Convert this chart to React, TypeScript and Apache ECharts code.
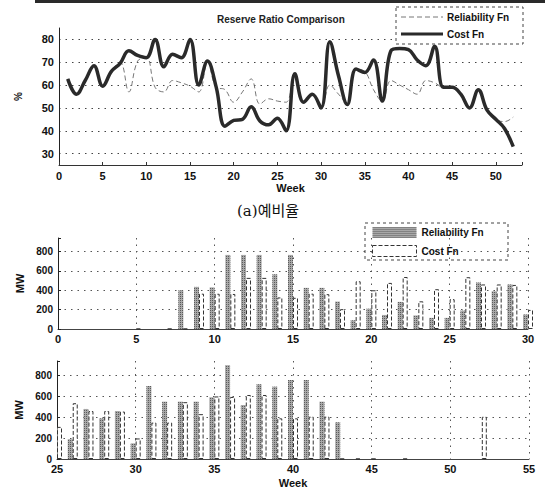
import React, { useEffect, useRef } from 'react';
import * as echarts from 'echarts';

// ---- data ----
const weeks = Array.from({ length: 52 }, (_, i) => i + 1);

const costRatio = [
  62.7, 56, 62, 68.5, 59.5, 66, 69.5, 75, 73, 72,
  80, 68, 73.5, 72, 80, 60, 70.5, 59, 42, 44.5,
  45, 50.5, 44.3, 42.6, 45.5, 40, 65, 52.5, 56, 50,
  79, 64, 51.5, 67, 65.5, 71, 53, 75, 76, 75.5,
  71, 68.5, 77, 59, 59, 56, 50, 58, 49, 45,
  41, 33,
];

const reliabilityRatio = [
  62.7, 56, 62, 68.5, 59.5, 66, 70, 57, 70.5, 72,
  59, 57, 62, 61, 59.5, 57, 70, 59, 58, 52.5,
  57, 62.7, 51.7, 54, 53, 52.5, 65, 52.5, 56, 50,
  60, 56, 52, 67, 66, 58, 53, 62, 60, 58,
  56, 62, 61, 59, 59, 56, 50, 58, 49, 45,
  44, 46,
];

const reliabilityMW: (number | null)[] = [
  null, null, null, null, 0, null, 0, 400, 435, 430,
  765, 765, 765, 565, 765, 425, 425, 283, 90, 210,
  145, 280, 140, 115, 115, 190, 480, 390, 460, 150,
  700, 550, 550, 550, 592, 900, 518, 717, 694, 758,
  758, 550, 352, 0, 0, null, 0, null, null, null,
  null, null,
];

const costMW: (number | null)[] = [
  null, null, null, null, 0, null, 0, 0, 365, 364,
  362, 528, 528, 326, 322, 365, 360, 205, 493, 400,
  476, 537, 286, 411, 308, 535, 460, 460, 455, 197,
  349, 349, 545, 430, 600, 595, 614, 614, 390, 390,
  406, 406, 0, 0, 0, null, 0, null, null, null,
  null, 405,
];

const seriesNames = ['Reliability Fn', 'Cost Fn'];
const titleText = 'Reserve Ratio Comparison';
const captionText = '(a)예비율';

const FONT = '"Liberation Sans", Arial, sans-serif';

const toPairs = (vals: (number | null)[]) => weeks.map((w, i) => [w, vals[i]]);
// keep only the weeks whose bar half falls inside the axis range
const inRange = (vals: (number | null)[], min: number, max: number, leftHalf: boolean) =>
  weeks
    .map((w, i) => [w, vals[i]] as [number, number | null])
    .filter(([w]) => (leftHalf ? w > min && w <= max : w >= min && w <= max));

const dotted = { color: '#555', type: [1.5, 5] as any, width: 1 };

export default function App() {
  const ref = useRef<HTMLDivElement>(null);

  useEffect(() => {
    if (!ref.current) return;
    const chart = echarts.init(ref.current, null, { renderer: 'svg' });

    const labelStyle = { fontSize: 10, fontWeight: 'bold' as const, color: '#111', fontFamily: FONT };
    const nameStyle = { fontSize: 11, fontWeight: 'bold' as const, color: '#111', fontFamily: FONT };

    const hatch = {
      symbol: 'rect',
      symbolSize: 1,
      color: 'rgba(40,40,40,0.6)',
      dashArrayX: [1, 1],
      dashArrayY: [1, 1],
      rotation: 0,
    };

    const barSeries = (axis: number, min: number, max: number) => [
      {
        type: 'bar',
        name: seriesNames[0],
        xAxisIndex: axis,
        yAxisIndex: axis,
        data: inRange(reliabilityMW, min, max, true),
        barWidth: 5,
        barGap: '0%',
        clip: true,
        itemStyle: { color: '#a8a8a8', decal: hatch },
      },
      {
        type: 'bar',
        name: seriesNames[1],
        xAxisIndex: axis,
        yAxisIndex: axis,
        data: inRange(costMW, min, max, false),
        barWidth: 5,
        barGap: '0%',
        clip: true,
        itemStyle: { color: '#ffffff', borderColor: '#333', borderWidth: 1, borderType: 'dashed' },
      },
    ];

    const mwAxis = (grid: number) => ({
      type: 'value',
      gridIndex: grid,
      min: 0,
      max: 940,
      interval: 200,
      name: 'MW',
      nameLocation: 'middle',
      nameGap: 30,
      nameTextStyle: nameStyle,
      axisLine: { show: true, lineStyle: { color: '#222', width: 1 } },
      axisTick: { show: true, inside: true, length: 3, lineStyle: { color: '#222' } },
      axisLabel: {
        ...labelStyle,
        margin: 5,
        formatter: (v: number) => (v % 200 === 0 ? String(v) : ''),
      },
      splitLine: { show: true, showMinLine: false, showMaxLine: false, lineStyle: dotted },
    });

    const weekAxis = (grid: number, min: number, max: number, showName: boolean) => ({
      type: 'value',
      gridIndex: grid,
      min,
      max,
      interval: 5,
      name: showName ? 'Week' : '',
      nameLocation: 'middle',
      nameGap: 18,
      nameTextStyle: nameStyle,
      axisLine: { show: true, onZero: false, lineStyle: { color: '#444', width: 1 } },
      axisTick: { show: false },
      axisLabel: { ...labelStyle, fontSize: 11, margin: 4 },
      splitLine: { show: true, showMinLine: false, lineStyle: dotted },
    });

    const option: any = {
      animation: false,
      backgroundColor: '#ffffff',
      textStyle: { fontFamily: FONT },
      title: {
        text: titleText,
        left: 212,
        top: 9,
        textStyle: { fontSize: 10, fontWeight: 'bold', color: '#222', fontFamily: FONT },
      },
      legend: {
        data: [
          { name: seriesNames[0] },
          {
            name: seriesNames[1],
            itemStyle: { color: '#fff', borderColor: '#333', borderWidth: 1, borderType: 'dashed' },
          },
        ],
        icon: 'rect',
        orient: 'vertical',
        left: 372,
        top: 227,
        padding: 0,
        itemWidth: 44,
        itemHeight: 11,
        itemGap: 7,
        selectedMode: false,
        textStyle: { fontSize: 10, fontWeight: 'bold', color: '#111', fontFamily: FONT },
      },
      grid: [
        { left: 59, top: 28, width: 463, height: 137 },
        { left: 58, top: 238, width: 470, height: 91 },
        { left: 57, top: 361, width: 472, height: 98 },
      ],
      xAxis: [
        {
          type: 'value',
          gridIndex: 0,
          min: 0,
          max: 53,
          interval: 5,
          name: 'Week',
          nameLocation: 'middle',
          nameGap: 17,
          nameTextStyle: nameStyle,
          axisLine: { show: true, onZero: false, lineStyle: { color: '#333', width: 1 } },
          axisTick: { show: true, inside: true, length: 3, lineStyle: { color: '#333' } },
          axisLabel: {
            ...labelStyle,
            fontSize: 11,
            margin: 5,
            formatter: (v: number) => (v % 5 === 0 && v <= 50 ? String(v) : ''),
          },
          splitLine: { show: false },
        },
        weekAxis(1, 0, 30, false),
        weekAxis(2, 25, 55, true),
      ],
      yAxis: [
        {
          type: 'value',
          gridIndex: 0,
          min: 25,
          max: 85,
          interval: 5,
          name: '%',
          nameLocation: 'middle',
          nameGap: 36,
          nameTextStyle: { ...nameStyle, fontSize: 10 },
          axisLine: { show: true, lineStyle: { color: '#222', width: 1 } },
          axisTick: { show: false },
          axisLabel: {
            ...labelStyle,
            fontSize: 11,
            margin: 5,
            formatter: (v: number) => (v % 10 === 0 && v >= 30 && v <= 80 ? String(v) : ''),
          },
          splitLine: {
            show: true,
            lineStyle: { ...dotted, color: ['rgba(0,0,0,0)', '#444'] },
          },
        },
        mwAxis(1),
        mwAxis(2),
      ],
      series: [
        ...barSeries(1, 0, 30),
        ...barSeries(2, 25, 55),
        {
          type: 'line',
          name: seriesNames[0],
          xAxisIndex: 0,
          yAxisIndex: 0,
          data: toPairs(reliabilityRatio),
          showSymbol: false,
          smooth: 0.4,
          lineStyle: { color: '#777', width: 1, type: [5, 3] },
          z: 2,
        },
        {
          type: 'line',
          name: seriesNames[1],
          xAxisIndex: 0,
          yAxisIndex: 0,
          data: toPairs(costRatio),
          showSymbol: false,
          smooth: 0.4,
          lineStyle: { color: '#2a2a2a', width: 3.5 },
          z: 3,
        },
      ],
      graphic: [
        { type: 'rect', shape: { x: 35, y: 0, width: 510, height: 3 }, style: { fill: '#2a2a2a' }, z: 10 },
        // top legend box
        {
          type: 'rect',
          shape: { x: 396, y: 7, width: 127, height: 37 },
          style: { fill: '#fff', stroke: '#444', lineWidth: 1, lineDash: [3, 3] },
          z: 20,
        },
        {
          type: 'line',
          shape: { x1: 401, y1: 17, x2: 443, y2: 17 },
          style: { stroke: '#777', lineWidth: 1, lineDash: [5, 3] },
          z: 21,
        },
        {
          type: 'text',
          x: 447,
          y: 17,
          style: { text: seriesNames[0], fill: '#111', font: `bold 10px ${FONT}`, textVerticalAlign: 'middle' },
          z: 21,
        },
        {
          type: 'line',
          shape: { x1: 401, y1: 34, x2: 443, y2: 34 },
          style: { stroke: '#2a2a2a', lineWidth: 3 },
          z: 21,
        },
        {
          type: 'text',
          x: 447,
          y: 34,
          style: { text: seriesNames[1], fill: '#111', font: `bold 10px ${FONT}`, textVerticalAlign: 'middle' },
          z: 21,
        },
        // bar legend box
        {
          type: 'rect',
          shape: { x: 365, y: 223, width: 143, height: 37 },
          style: { fill: 'rgba(255,255,255,0)', stroke: '#444', lineWidth: 1, lineDash: [3, 3] },
          z: 20,
        },
        // caption
        {
          type: 'text',
          x: 237,
          y: 211,
          style: {
            text: captionText,
            fill: '#111',
            font: `15px "DejaVu Serif", "Noto Sans CJK KR", serif`,
            textVerticalAlign: 'middle',
          },
          z: 21,
        },
      ],
    };

    chart.setOption(option);
    return () => chart.dispose();
  }, []);

  return (
    <div
      ref={ref}
      style={{ position: 'fixed', left: 0, top: 0, width: 545, height: 493, background: '#fff' }}
    />
  );
}
